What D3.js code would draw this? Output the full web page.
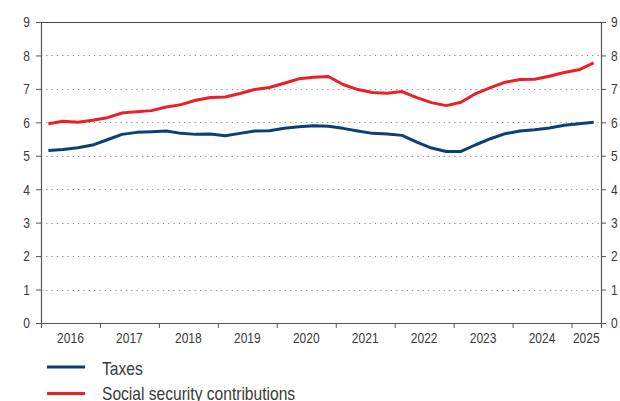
<!DOCTYPE html>
<html>
<head>
<meta charset="utf-8">
<script src="https://cdn.jsdelivr.net/npm/d3@7/dist/d3.min.js"></script>
<style>
  html, body { margin: 0; padding: 0; background: #fff; }
  svg { display: block; }
  text { font-family: "Liberation Sans", Arial, sans-serif; fill: #3a3a3a; }
</style>
</head>
<body>
<script>
// Quarterly observations, 2016 Q1 - 2025 Q2
const years = ["2016","2017","2018","2019","2020","2021","2022","2023","2024","2025"];
const quartersPerYear = [4,4,4,4,4,4,4,4,4,2];
const yTicks = [0,1,2,3,4,5,6,7,8,9];

const taxes = [
  5.16, 5.19, 5.24, 5.32,
  5.48, 5.64, 5.70, 5.72,
  5.74, 5.67, 5.64, 5.65,
  5.60, 5.67, 5.74, 5.75,
  5.82, 5.87, 5.90, 5.88,
  5.82, 5.74, 5.67, 5.65,
  5.61, 5.41, 5.23, 5.13,
  5.13, 5.33, 5.51, 5.66,
  5.74, 5.78, 5.83, 5.91,
  5.96, 6.00
];
const socialContributions = [
  5.96, 6.03, 6.00, 6.06,
  6.14, 6.28, 6.32, 6.35,
  6.46, 6.53, 6.66, 6.74,
  6.76, 6.86, 6.98, 7.04,
  7.17, 7.30, 7.35, 7.37,
  7.13, 6.98, 6.89, 6.87,
  6.92, 6.74, 6.59, 6.50,
  6.60, 6.86, 7.04, 7.20,
  7.28, 7.29, 7.38, 7.49,
  7.57, 7.78
];
const seriesNames = ["Taxes", "Social security contributions"];
const seriesColors = ["#0b3f75", "#ec1f29"];

const W = 620, H = 401;
const margin = { left: 41, right: 19, top: 22, bottom: 78 };
const innerW = W - margin.left - margin.right;
const innerH = H - margin.top - margin.bottom;

const svg = d3.select("body").append("svg").attr("width", W).attr("height", H);
const g = svg.append("g").attr("transform", `translate(${margin.left},${margin.top})`);

const nQ = d3.sum(quartersPerYear);
const x = d3.scaleLinear().domain([0, nQ]).range([0, innerW]);
const y = d3.scaleLinear().domain([0, 9]).range([innerH, 0]);

// year boundaries in quarter units
const bounds = [0];
quartersPerYear.forEach(q => bounds.push(bounds[bounds.length - 1] + q));

// condensed look: squeeze glyphs horizontally
function condense(sel, ratio) {
  sel.each(function () {
    const w = this.getComputedTextLength();
    d3.select(this).attr("textLength", w * ratio).attr("lengthAdjust", "spacingAndGlyphs");
  });
}

// dotted horizontal grid
g.append("g").selectAll("line")
  .data(yTicks.filter(t => t > 0 && t < 9))
  .join("line")
  .attr("x1", 0).attr("x2", innerW)
  .attr("y1", d => Math.round(y(d)) + 0.5).attr("y2", d => Math.round(y(d)) + 0.5)
  .attr("stroke", "#8a8a8a").attr("stroke-width", 1.2)
  .attr("stroke-dasharray", "1.2,4.1");

// top frame line
g.append("line")
  .attr("x1", 0).attr("x2", innerW)
  .attr("y1", Math.round(y(9)) + 0.5).attr("y2", Math.round(y(9)) + 0.5)
  .attr("stroke", "#444").attr("stroke-width", 1);

// left & right value axes
const axisL = d3.axisLeft(y).tickValues(yTicks).tickSize(5).tickPadding(6);
const axisR = d3.axisRight(y).tickValues(yTicks).tickSize(5).tickPadding(5);
const gl = g.append("g").call(axisL);
const gr = g.append("g").attr("transform", `translate(${innerW},0)`).call(axisR);
[gl, gr].forEach(a => {
  a.select(".domain").attr("stroke", "#555").attr("stroke-width", 1.2);
  a.selectAll(".tick line").attr("stroke", "#555");
  a.selectAll("text").attr("font-size", 15).attr("fill", "#3a3a3a")
    .attr("font-family", '"Liberation Sans", Arial, sans-serif')
    .call(condense, 0.8);
});

// bottom axis: ticks at year boundaries, labels centred on each year
const axisB = d3.axisBottom(x).tickValues(bounds).tickSize(5).tickFormat("");
const gb = g.append("g").attr("transform", `translate(0,${innerH})`).call(axisB);
gb.select(".domain").attr("stroke", "#555").attr("stroke-width", 1.2);
gb.selectAll(".tick line").attr("stroke", "#555");

g.append("g").selectAll("text")
  .data(years)
  .join("text")
  .attr("x", (d, i) => x((bounds[i] + bounds[i + 1]) / 2))
  .attr("y", innerH + 20)
  .attr("text-anchor", "middle")
  .attr("font-size", 15)
  .text(d => d)
  .call(condense, 0.8);

// series lines, plotted at quarter centres
const line = d3.line()
  .x((d, i) => x(i + 0.5))
  .y(d => y(d))
  .curve(d3.curveLinear);

[taxes, socialContributions].forEach((s, k) => {
  g.append("path")
    .datum(s)
    .attr("fill", "none")
    .attr("stroke", seriesColors[k])
    .attr("stroke-width", 3)
    .attr("stroke-linejoin", "round")
    .attr("d", line);
});

// legend
const legend = svg.append("g").attr("transform", "translate(47,0)");
const legendRows = [
  { lineY: 367, textY: 374.5 },
  { lineY: 393.5, textY: 399.5 }
];
seriesNames.forEach((name, k) => {
  legend.append("line")
    .attr("x1", 0).attr("x2", 38)
    .attr("y1", legendRows[k].lineY).attr("y2", legendRows[k].lineY)
    .attr("stroke", seriesColors[k]).attr("stroke-width", 3);
  legend.append("text")
    .attr("x", 55).attr("y", legendRows[k].textY)
    .attr("font-size", 19)
    .text(name)
    .call(condense, 0.82);
});
</script>
</body>
</html>
